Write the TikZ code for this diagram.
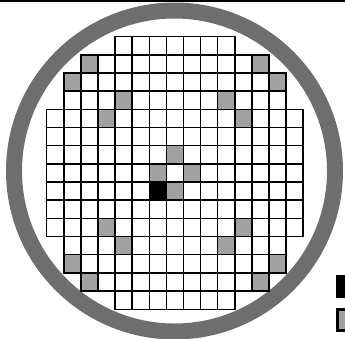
\documentclass[tikz,border=0pt]{standalone}
\usepackage{tikz}

\begin{document}
\begin{tikzpicture}[x=1pt,y=-1pt,
  cell/.style={draw=black,fill=white,line width=1.5pt,minimum width=17.1pt,minimum height=18.17pt,
               inner sep=0pt,outer sep=0pt},
  bad/.style={cell,fill=black!37},
  dead/.style={cell,fill=black},
  ring/.style={draw=black!57,line width=16pt}]
\useasboundingbox (0,0) rectangle (345,338);
\clip (0,0) rectangle (345,338);
\draw[line width=2.4pt] (0,1.2) -- (345,1.2);
\draw[ring] (174.5,171) circle[radius=160.5pt];
% wafer map
\foreach \r/\a/\b in {0/4/10,1/2/12,2/1/13,3/1/13,4/0/14,5/0/14,6/0/14,7/0/14,
                      8/0/14,9/0/14,10/0/14,11/1/13,12/1/13,13/2/12,14/4/10}
  \foreach \c in {\a,...,\b}
    \node[cell] (c-\r-\c) at ({46.7+17.1*(\c+0.5)},{36.7+18.17*(\r+0.5)}) {};
\foreach \r/\c in {1/2,1/12,2/1,2/13,3/4,3/10,4/3,4/11,6/7,7/6,7/8,8/7,
                   10/3,10/11,11/4,11/10,12/1,12/13,13/2,13/12}
  \node[bad] (g-\r-\c) at (c-\r-\c) {};
\node[dead] (k-8-6) at (c-8-6) {};
% key
\node[fill=black,minimum width=24pt,minimum height=23pt,inner sep=0pt] (key-dead) at (348,286.5) {};
\node[draw=black,line width=3pt,fill=black!37,minimum width=21pt,minimum height=21pt,inner sep=0pt]
  (key-bad) at (348,320) {};
\end{tikzpicture}
\end{document}
